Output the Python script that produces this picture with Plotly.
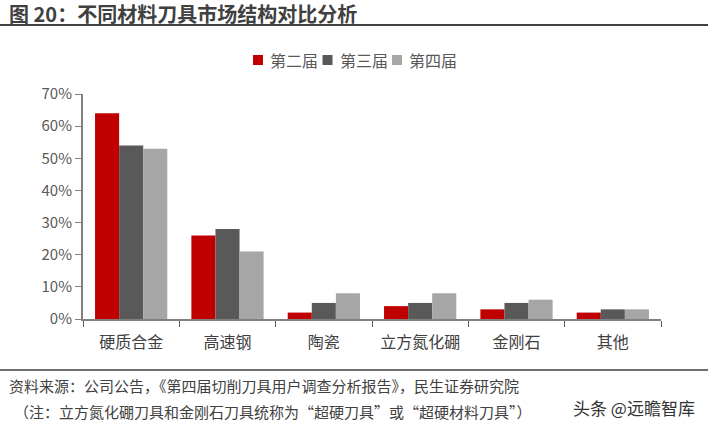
import plotly.graph_objects as go

categories = ["硬质合金", "高速钢", "陶瓷", "立方氮化硼", "金刚石", "其他"]
series_names = ["第二届", "第三届", "第四届"]
s2 = [64, 26, 2, 4, 3, 2]
s3 = [54, 28, 5, 5, 5, 3]
s4 = [53, 21, 8, 8, 6, 3]
colors = ["#C00000", "#595959", "#A6A6A6"]
yticks = [0, 10, 20, 30, 40, 50, 60, 70]
ytick_labels = [f"{v}%" for v in yticks]

W, H = 708, 427
L, R, T, B = 83, 661, 94, 319

def px(x):
    return (x - L) / (R - L)

def py(y):
    return (B - y) / (B - T)

FONT = "Noto Sans CJK SC, Microsoft YaHei, sans-serif"

fig = go.Figure()
for name, vals, c in zip(series_names, [s2, s3, s4], colors):
    fig.add_trace(go.Bar(x=categories, y=vals, name=name, marker=dict(color=c, line=dict(width=0))))

fig.update_layout(
    width=W, height=H,
    margin=dict(l=L, r=W - R, t=T, b=H - B, autoexpand=False),
    paper_bgcolor="white", plot_bgcolor="white",
    barmode="group", bargap=0.25, bargroupgap=0,
    font=dict(family=FONT, color="#595959", size=15),
    showlegend=False,
    xaxis=dict(showline=True, linecolor="#808080", linewidth=2, ticks="outside", tickson="boundaries",
               ticklen=6, tickcolor="#595959", tickfont=dict(size=16, color="#404040"), showgrid=False,
               automargin=False, ticklabelstandoff=8),
    yaxis=dict(range=[0, 70], tickvals=yticks, ticktext=ytick_labels, showline=True, linecolor="#808080",
               linewidth=2, ticks="outside", ticklen=6, tickcolor="#808080", showgrid=False, zeroline=False,
               tickfont=dict(size=15, color="#595959"), automargin=False),
)

# legend (drawn manually to match the compact spacing)
leg_x0, leg_step, leg_y = 253, 69.5, 60
for i, (name, c) in enumerate(zip(series_names, colors)):
    x = leg_x0 + i * leg_step
    fig.add_shape(type="rect", xref="paper", yref="paper", x0=px(x), x1=px(x + 10),
                  y0=py(leg_y + 5), y1=py(leg_y - 5), fillcolor=c, line=dict(width=0))
    fig.add_annotation(text=name, xref="paper", yref="paper", x=px(x + 15), y=py(leg_y),
                       xanchor="left", yanchor="middle", showarrow=False,
                       font=dict(size=16, color="#595959", family=FONT))

fig.add_annotation(text="<b>图 20：不同材料刀具市场结构对比分析</b>", xref="paper", yref="paper",
                   x=px(7), y=py(14), xanchor="left", yanchor="middle", showarrow=False,
                   font=dict(size=20, color="#404040", family=FONT))
fig.add_shape(type="line", xref="paper", yref="paper", x0=px(0), x1=px(708), y0=py(25), y1=py(25),
              line=dict(color="#404040", width=2))
fig.add_shape(type="line", xref="paper", yref="paper", x0=px(0), x1=px(708), y0=py(370), y1=py(370),
              line=dict(color="#404040", width=1.5))
fig.add_annotation(text="资料来源：公司公告，《第四届切削刀具用户调查分析报告》，民生证券研究院", xref="paper", yref="paper",
                   x=px(7), y=py(385), xanchor="left", yanchor="middle", showarrow=False,
                   font=dict(size=15, color="#404040", family=FONT))
fig.add_annotation(text="（注：立方氮化硼刀具和金刚石刀具统称为“超硬刀具”或“超硬材料刀具”）", xref="paper", yref="paper",
                   x=px(12), y=py(411), xanchor="left", yanchor="middle", showarrow=False,
                   font=dict(size=15, color="#404040", family=FONT))
fig.add_annotation(text="头条 @远瞻智库", xref="paper", yref="paper",
                   x=px(697), y=py(407), xanchor="right", yanchor="middle", showarrow=False,
                   font=dict(size=17, color="#333333", family=FONT))

fig.write_html("out.html", config={"displayModeBar": False},
               post_script="document.body.style.margin='0';document.body.style.padding='0';")
